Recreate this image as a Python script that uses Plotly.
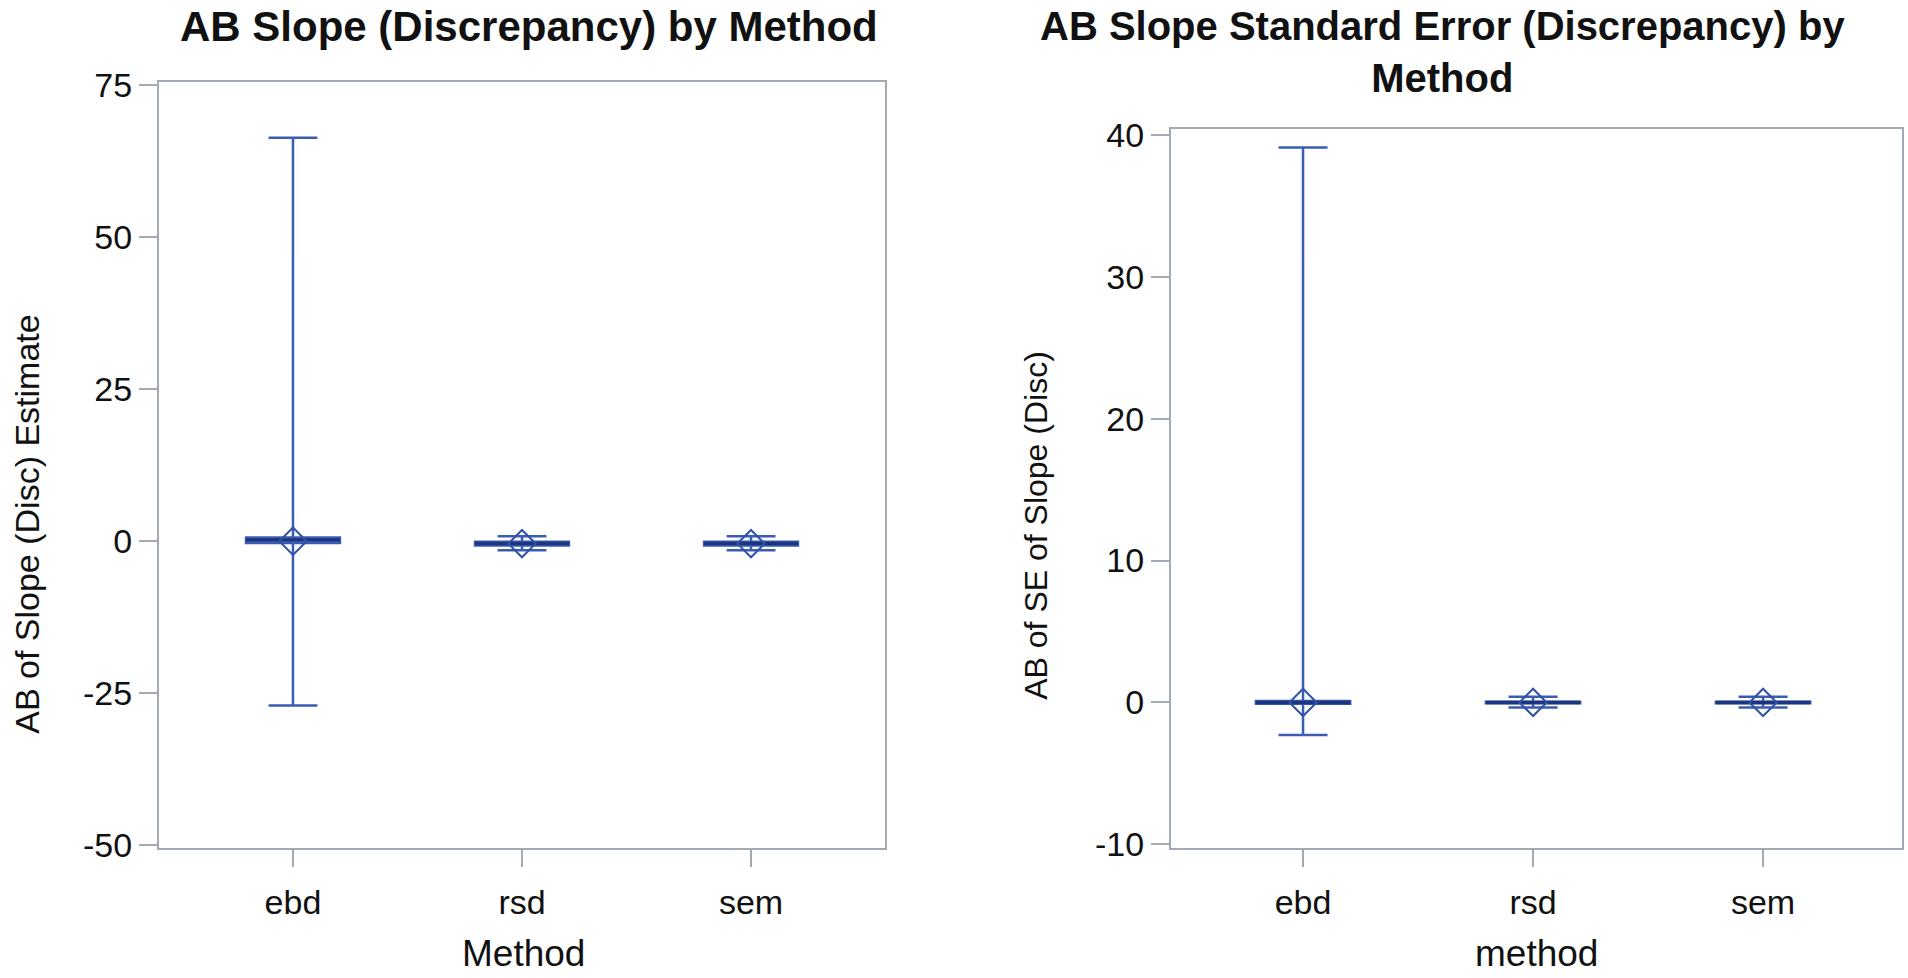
import plotly.graph_objects as go

# ---------------- data ----------------
methods = ["ebd", "rsd", "sem"]

slope_min = [-27.0, -1.5, -1.5]
slope_q1 = [-0.3, -0.7, -0.7]
slope_median = [0.2, -0.4, -0.4]
slope_q3 = [0.6, -0.1, -0.1]
slope_max = [66.3, 0.8, 0.8]
slope_mean = [0.0, -0.4, -0.4]

se_min = [-2.3, -0.35, -0.35]
se_q1 = [-0.1, -0.05, -0.05]
se_median = [0.0, 0.0, 0.0]
se_q3 = [0.1, 0.05, 0.05]
se_max = [39.1, 0.4, 0.4]
se_mean = [0.0, 0.0, 0.0]

slope_ticks = [-50, -25, 0, 25, 50, 75]
se_ticks = [-10, 0, 10, 20, 30, 40]

title_left = "AB Slope (Discrepancy) by Method"
title_right = "AB Slope Standard Error (Discrepancy) by<br>Method"
ytitle_left = "AB of Slope (Disc) Estimate"
ytitle_right = "AB of SE of Slope (Disc)"
xtitle_left = "Method"
xtitle_right = "method"

# ---------------- styles ----------------
FONT = "Liberation Sans, Arial, sans-serif"
WHISKER = "#3a5cb3"
MEDIAN = "#1c357f"
MEAN = "#2f52a8"
FRAME = "#a3aab1"
W, H = 1908, 978

fig = go.Figure()


def add_panel(xa, ya, mn, q1, med, q3, mx, mean):
    # whiskers with caps + thin box
    fig.add_trace(go.Box(
        x=methods, q1=q1, median=med, q3=q3, lowerfence=mn, upperfence=mx,
        xaxis=xa, yaxis=ya, width=0.41, whiskerwidth=0.52,
        line=dict(color=WHISKER, width=2.5), fillcolor="rgba(0,0,0,0)",
        boxpoints=False, showlegend=False, hoverinfo="skip"))
    # dark median line
    fig.add_trace(go.Box(
        x=methods, q1=med, median=med, q3=med, lowerfence=med, upperfence=med,
        xaxis=xa, yaxis=ya, width=0.41, whiskerwidth=0,
        line=dict(color=MEDIAN, width=3.5), fillcolor="rgba(0,0,0,0)",
        boxpoints=False, showlegend=False, hoverinfo="skip"))
    # mean marker
    fig.add_trace(go.Scatter(
        x=methods, y=mean, xaxis=xa, yaxis=ya, mode="markers",
        marker=dict(symbol="diamond-open", size=21, color=MEAN,
                    line=dict(width=2, color=MEAN)),
        showlegend=False, hoverinfo="skip"))


add_panel("x", "y", slope_min, slope_q1, slope_median, slope_q3, slope_max, slope_mean)
add_panel("x2", "y2", se_min, se_q1, se_median, se_q3, se_max, se_mean)

axis_common = dict(
    showline=True, linecolor=FRAME, linewidth=2, mirror=True,
    showgrid=False, zeroline=False, ticks="outside", tickcolor=FRAME,
    tickwidth=2, tickfont=dict(family=FONT, size=34, color="#111"),
)

fig.update_layout(
    width=W, height=H, margin=dict(l=0, r=0, t=0, b=0),
    paper_bgcolor="white", plot_bgcolor="white", boxmode="overlay",
    xaxis=dict(axis_common, domain=[159 / W, 885 / W], anchor="y",
               type="category", range=[-0.585, 2.585], ticklen=17,
               ticklabelstandoff=6),
    yaxis=dict(axis_common, domain=[1 - 860 / H, 1 - 68 / H], anchor="x",
               range=[-50.4, 75.5], tickvals=slope_ticks,
               ticktext=[str(v) for v in slope_ticks], ticklen=18),
    xaxis2=dict(axis_common, domain=[1171 / W, 1902 / W], anchor="y2",
                type="category", range=[-0.574, 2.604], ticklen=17,
                ticklabelstandoff=6),
    yaxis2=dict(axis_common, domain=[1 - 860 / H, 1 - 117 / H], anchor="x2",
                range=[-10.25, 40.4], tickvals=se_ticks,
                ticktext=[str(v) for v in se_ticks], ticklen=18),
)

ann = []
ann.append(dict(text="<b>" + title_left + "</b>", x=529 / W, y=1 - 11 / H,
                xanchor="center", yanchor="middle",
                font=dict(family=FONT, size=42, color="#111")))
ann.append(dict(text="<b>" + title_right.replace("<br>", "</b><br><b>") + "</b>",
                x=1442 / W, y=1 - 37 / H, xanchor="center", yanchor="middle",
                font=dict(family=FONT, size=40, color="#111")))
ann.append(dict(text=ytitle_left, x=27 / W, y=1 - 526 / H, textangle=-90,
                xanchor="center", yanchor="middle",
                font=dict(family=FONT, size=34, color="#111")))
ann.append(dict(text=ytitle_right, x=1036 / W, y=1 - 527 / H, textangle=-90,
                xanchor="center", yanchor="middle",
                font=dict(family=FONT, size=32, color="#111")))
ann.append(dict(text=xtitle_left, x=523 / W, y=1 - 969 / H,
                xanchor="center", yanchor="middle",
                font=dict(family=FONT, size=37, color="#111")))
ann.append(dict(text=xtitle_right, x=1536 / W, y=1 - 969 / H,
                xanchor="center", yanchor="middle",
                font=dict(family=FONT, size=37, color="#111")))
for a in ann:
    a.update(xref="paper", yref="paper", showarrow=False)
fig.update_layout(annotations=ann)

fig.write_html(
    "out.html",
    config={"displayModeBar": False},
    post_script="document.body.style.margin='0';document.body.style.overflow='hidden';",
)
